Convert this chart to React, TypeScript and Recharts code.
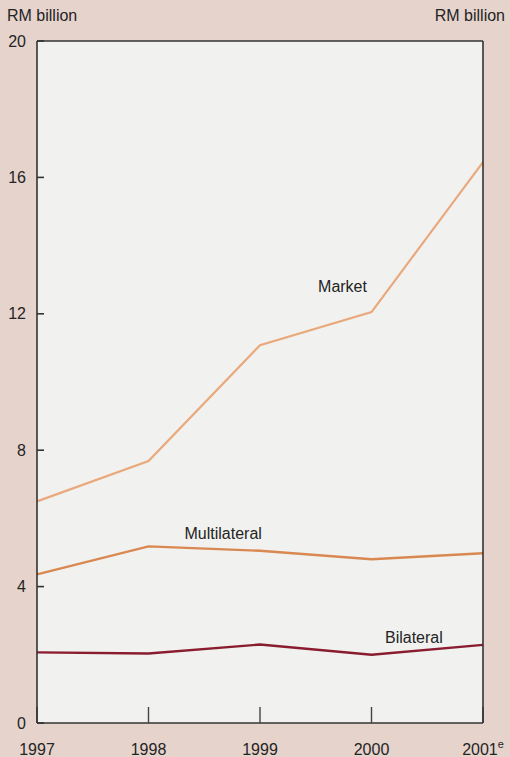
import { LineChart, Line, XAxis, YAxis, CartesianGrid, ReferenceLine, ReferenceDot } from 'recharts'

const years = [1997, 1998, 1999, 2000, 2001]
const market = [6.5, 7.68, 11.08, 12.05, 16.45]
const multilateral = [4.36, 5.18, 5.05, 4.8, 4.98]
const bilateral = [2.07, 2.04, 2.3, 2.0, 2.29]
const yTicks = [0, 4, 8, 12, 16, 20]

const data = years.map((year, i) => ({
  year,
  market: market[i],
  multilateral: multilateral[i],
  bilateral: bilateral[i],
}))

const font = '"Liberation Sans", Arial, sans-serif'
const ink = '#242424'
const fs = 16

function YearTick({ x, y, payload }: any) {
  return (
    <text x={x} y={y} textAnchor="middle" fill={ink} fontSize={fs} fontFamily={font}>
      {payload.value}
      {payload.value === 2001 && (
        <tspan dy={-7} fontSize={11}>
          e
        </tspan>
      )}
    </text>
  )
}

export default function App() {
  return (
    <div
      style={{
        position: 'absolute',
        left: 0,
        top: 0,
        width: 510,
        height: 757,
        background: '#e6d3cc',
        fontFamily: font,
        color: ink,
      }}
    >
      <div style={{ position: 'absolute', left: 7, top: 7, fontSize: fs }}>RM billion</div>
      <div style={{ position: 'absolute', right: 5, top: 7, fontSize: fs }}>RM billion</div>
      <LineChart width={510} height={757} data={data} margin={{ top: 41, right: 0, bottom: 0, left: 0 }}>
        <CartesianGrid horizontal={false} vertical={false} fill="#f1f1ef" yAxisId="left" />
        <XAxis
          dataKey="year"
          type="number"
          domain={[1997, 2001]}
          ticks={years}
          height={34}
          tickSize={-16}
          tickMargin={48}
          tick={<YearTick />}
          axisLine={{ stroke: '#333', strokeWidth: 1.6 }}
          tickLine={{ stroke: '#444', strokeWidth: 1.4 }}
        />
        <YAxis
          yAxisId="left"
          domain={[0, 20]}
          ticks={yTicks}
          width={37}
          tickSize={-7}
          tickMargin={18}
          tick={{ fill: ink, fontSize: fs, fontFamily: font }}
          axisLine={{ stroke: '#333', strokeWidth: 1.6 }}
          tickLine={{ stroke: '#333', strokeWidth: 1.6 }}
        />
        <YAxis
          yAxisId="right"
          orientation="right"
          domain={[0, 20]}
          ticks={yTicks}
          width={27}
          tickSize={-8}
          tickMargin={14}
          tick={{ fill: ink, fontSize: fs, fontFamily: font }}
          axisLine={{ stroke: '#333', strokeWidth: 1.6 }}
          tickLine={{ stroke: '#333', strokeWidth: 1.6 }}
        />
        <ReferenceLine yAxisId="left" y={20} stroke="#333" strokeWidth={1.6} />
        <Line
          yAxisId="left"
          type="linear"
          dataKey="market"
          stroke="#e9a97c"
          strokeWidth={2.2}
          dot={false}
          isAnimationActive={false}
        />
        <Line
          yAxisId="left"
          type="linear"
          dataKey="multilateral"
          stroke="#d98851"
          strokeWidth={2.4}
          dot={false}
          isAnimationActive={false}
        />
        <Line
          yAxisId="left"
          type="linear"
          dataKey="bilateral"
          stroke="#8a1c30"
          strokeWidth={2.4}
          dot={false}
          isAnimationActive={false}
        />
        <ReferenceDot
          yAxisId="left"
          x={1999.74}
          y={12.8}
          r={0}
          stroke="none"
          fill="none"
          label={{ value: 'Market', position: 'center', fill: ink, fontSize: fs, fontFamily: font }}
        />
        <ReferenceDot
          yAxisId="left"
          x={1998.67}
          y={5.55}
          r={0}
          stroke="none"
          fill="none"
          label={{ value: 'Multilateral', position: 'center', fill: ink, fontSize: fs, fontFamily: font }}
        />
        <ReferenceDot
          yAxisId="left"
          x={2000.38}
          y={2.52}
          r={0}
          stroke="none"
          fill="none"
          label={{ value: 'Bilateral', position: 'center', fill: ink, fontSize: fs, fontFamily: font }}
        />
      </LineChart>
    </div>
  )
}
